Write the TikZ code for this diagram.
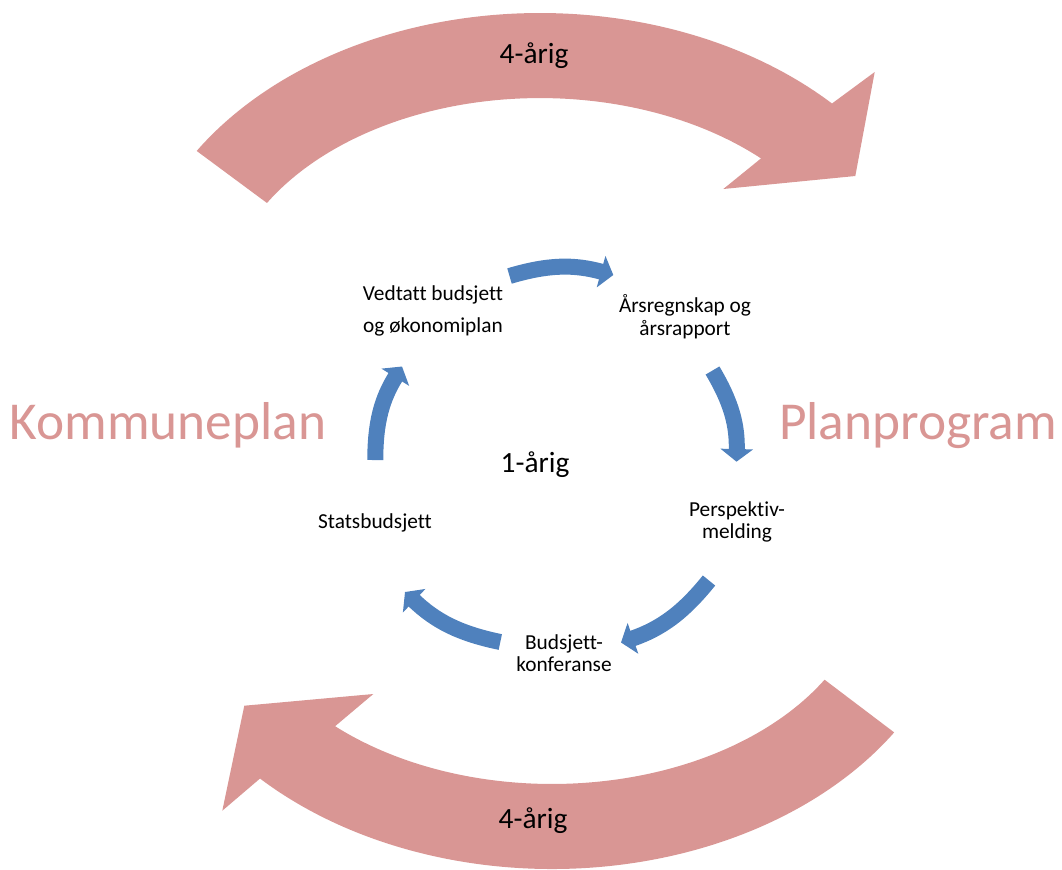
\documentclass[tikz,border=0pt]{standalone}
\usepackage{fontspec}
\setmainfont{Carlito}[Ligatures=NoCommon]
\usetikzlibrary{arrows.meta}
\definecolor{pinkarrow}{HTML}{D99694}
\definecolor{bluearrow}{HTML}{4F81BD}
\begin{document}
\begin{tikzpicture}[x=0.75pt,y=-0.75pt,
  bigarrow/.style={fill=pinkarrow},
  cyclearrow/.style={draw=bluearrow, line width=12pt, -{Triangle[length=9.5pt,width=24pt]}, bend left=16},
  steplabel/.style={font=\fontsize{16pt}{17pt}\selectfont, align=center, inner sep=0pt},
  period/.style={font=\fontsize{22pt}{26pt}\selectfont, inner sep=0pt},
  plan/.style={font=\fontsize{40pt}{48pt}\selectfont, text=pinkarrow, inner sep=0pt}]
\useasboundingbox (0,0) rectangle (1062,869);

% top 4-year arrow
\fill[bigarrow] ([shift={(540,313)}]-147.3:408 and 300)
  arc[start angle=-147.3,end angle=-44.3,x radius=408,y radius=300]
  -- (874.7,72) -- (855.3,176) -- (723.3,189) -- (761,158.4)
  arc[start angle=-46,end angle=-149.2,x radius=318,y radius=215] -- cycle;

% bottom 4-year arrow
\fill[bigarrow] ([shift={(552,569)}]33:408 and 300)
  arc[start angle=33,end angle=135.7,x radius=408,y radius=300]
  -- (222.3,810.7) -- (244.3,705.7) -- (373.3,694) -- (335.1,726.2)
  arc[start angle=133,end angle=31,x radius=318,y radius=215] -- cycle;

% labels
\node[steplabel] (vedtatt) at (433,311) {Vedtatt budsjett\\[7.5pt]og økonomiplan};
\node[steplabel] (arsregnskap) at (685,317) {Årsregnskap og\\årsrapport};
\node[steplabel] (perspektiv) at (737,522) {Perspektiv-\\melding};
\node[steplabel,anchor=base] (statsbudsjett) at (375,528) {Statsbudsjett};
\node[steplabel] (budsjett) at (564,653) {Budsjett-\\konferanse};
\node[period,anchor=base] (ettarig) at (535,472) {1-årig};
\node[period,anchor=base] (firearigtop) at (534,63) {4-årig};
\node[period,anchor=base] (firearigbot) at (533,828) {4-årig};
\node[plan,anchor=base] (kommuneplan) at (168,439) {Kommuneplan};
\node[plan,anchor=base] (planprogram) at (918,439) {Planprogram};

% cycle arrows
\coordinate (a1s) at (509.5,276);   \coordinate (a1e) at (613.3,275);
\coordinate (a2s) at (712.5,370.5); \coordinate (a2e) at (736.5,461.7);
\coordinate (a3s) at (709,580.5);   \coordinate (a3e) at (621,642.5);
\coordinate (a4s) at (500.3,642);   \coordinate (a4e) at (405,592);
\coordinate (a5s) at (375.3,460);   \coordinate (a5e) at (402,366.5);
\draw[cyclearrow] (a1s) to (a1e);
\draw[cyclearrow] (a2s) to (a2e);
\draw[cyclearrow] (a3s) to (a3e);
\draw[cyclearrow] (a4s) to (a4e);
\draw[cyclearrow] (a5s) to (a5e);
\end{tikzpicture}
\end{document}
